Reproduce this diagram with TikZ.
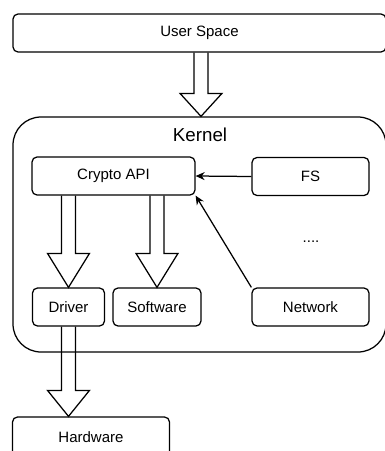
\documentclass[tikz,border=0pt]{standalone}
\usepackage{fontspec}
\setmainfont{Liberation Sans}
\usetikzlibrary{calc,arrows.meta}
\tikzset{
	box/.style = {draw, rounded corners=5pt, line width=1.25pt, minimum height=38pt, inner sep=0pt, font=\fontsize{15}{18}\selectfont},
	fatarrow/.style = {draw, line width=1.25pt, line join=miter},
	thinarrow/.style = {line width=1.25pt, -{Stealth[length=9pt,width=8pt]}}
}
\newcommand{\fatarrow}[3][25]{
	\draw[fatarrow] let \p1 = (#2), \p2 = (#3) in (\x1-7pt,\y1) -- (\x1-7pt,\y2+#1pt) -- (\x1-21pt,\y2+#1pt) -- (\x1,\y2) -- (\x1+21pt,\y2+#1pt) -- (\x1+7pt,\y2+#1pt) -- (\x1+7pt,\y1);
}
\begin{document}
\begin{tikzpicture}[x=1pt,y=-1pt]
	\useasboundingbox (0,0) rectangle (385,451);
	\clip (0,0) rectangle (385,451);
	\node[box, minimum width=373pt] (user) at (199.5,33) {User Space};
	\node[box, rounded corners=28pt, minimum width=373pt, minimum height=235pt] (kernel) at (199.5,234.5) {};
	\node[font=\fontsize{18.75}{22}\selectfont] (ktitle) at (200,135) {Kernel};
	\node[box, minimum width=163pt] (crypto) at (113.5,176) {Crypto API};
	\node[box, minimum width=117pt] (fs) at (310.5,176.5) {FS};
	\node[font=\fontsize{15}{18}\selectfont] (dots) at (311,242) {....};
	\node[box, minimum width=72pt] (driver) at (68.5,307) {Driver};
	\node[box, minimum width=88pt] (software) at (157,307) {Software};
	\node[box, minimum width=117pt] (network) at (310.5,307) {Network};
	\node[box, minimum width=157pt, minimum height=40pt] (hardware) at (91,437) {Hardware};
	\fatarrow[23]{$(user.south)+(1.5,0)$}{$(kernel.north)+(1.5,0)$}
	\fatarrow[34]{crypto.south -| driver.north}{driver.north}
	\fatarrow[34]{crypto.south -| software.north}{software.north}
	\fatarrow[26]{driver.south}{driver.south |- hardware.north}
	\draw[thinarrow] (fs.west) -- (crypto.east);
	\draw[thinarrow] (network.north west) -- (crypto.south east);
\end{tikzpicture}
\end{document}
